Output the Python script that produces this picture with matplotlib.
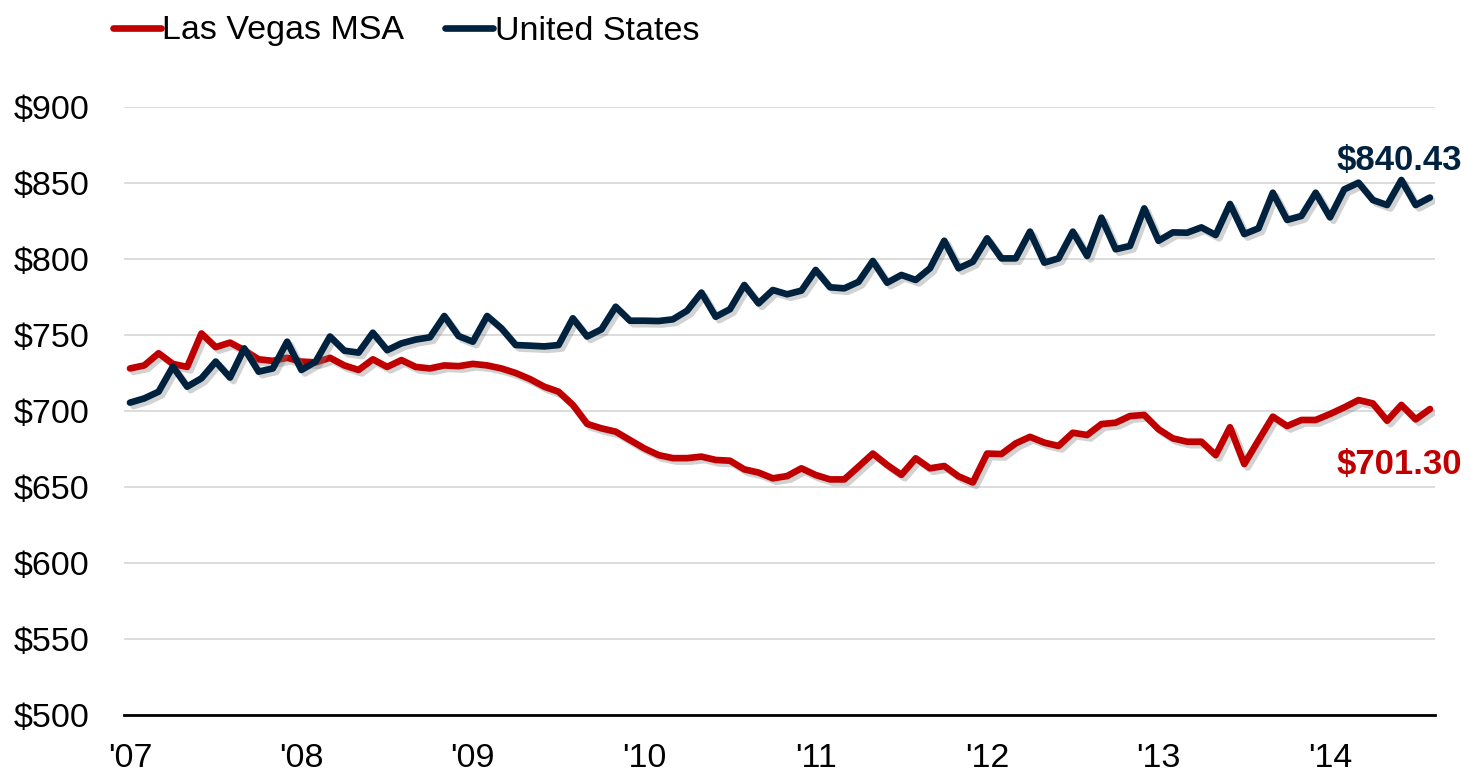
import matplotlib
matplotlib.use("Agg")
import matplotlib.pyplot as plt
import matplotlib.patheffects as pe
from matplotlib.lines import Line2D

plt.rcParams['font.family'] = ['Liberation Sans', 'DejaVu Sans']

# monthly values, Jan 2007 - Aug 2014
las_vegas = [728, 730, 738, 731, 729, 751, 742, 745, 740, 734, 733, 735,
             732.5, 732, 735, 730, 727, 734, 729, 733.5, 729, 728, 730, 729.5,
             731, 730, 728, 725, 721, 716, 712.7, 704, 691.5, 688.6, 686.4, 680.9,
             675.4, 671, 669, 669, 670, 667.8, 667.3, 661.6, 659.5, 655.7, 657.2, 662.3,
             657.9, 655, 655, 663.4, 672, 664.5, 658, 668.9, 662.3, 663.8, 657, 653,
             672, 671.7, 678.7, 683, 679.2, 677, 685.7, 684.2, 691.4, 692.3, 696.7, 697.4,
             688, 682, 679.8, 679.8, 671, 689.3, 665.1, 680.8, 696.3, 690.1, 694.1, 694.1,
             698, 702.4, 707.2, 705, 693.6, 704, 694.5, 701.30]

united_states = [705.5, 708.3, 712.7, 729.2, 716, 721.5, 732.5, 722, 741.2, 725.9, 728, 745.6,
                 727, 732.5, 749, 739.7, 738.4, 751.5, 740, 744.5, 747, 748.5, 762.5, 749.3,
                 745.6, 762.5, 754.4, 743.4, 743, 742.5, 743.4, 761, 749, 753.7, 768.6, 759.4,
                 759.4, 759.2, 760.3, 766, 777.9, 762, 767, 782.9, 770.8, 779.6, 776.8, 779.2,
                 792.8, 781.4, 780.7, 785, 798.7, 784.4, 789.5, 786.2, 793.9, 812, 793.9, 798.2,
                 813.6, 800.4, 800.4, 818, 797.6, 800.4, 818, 802, 827.2, 806.4, 808.6, 833.3,
                 812, 817.5, 817.3, 820.8, 815.8, 836.2, 816.4, 820.2, 843.6, 825.7, 828.3, 843.6,
                 827.4, 845.8, 850.2, 838.8, 835.5, 852, 835.5, 840.43]

year_labels = ["'07", "'08", "'09", "'10", "'11", "'12", "'13", "'14"]
y_ticks = [500, 550, 600, 650, 700, 750, 800, 850, 900]

red = '#C00000'
navy = '#00223F'

fig = plt.figure(figsize=(14.71, 7.81), dpi=100)
ax = fig.add_axes([0.0843, 0.0845, 0.8912, 0.7785])

months = list(range(len(las_vegas)))
shadow = [pe.SimpleLineShadow(offset=(2.5, -2.5), shadow_color='#808080', alpha=0.35), pe.Normal()]

ax.plot(months, las_vegas, color=red, lw=4.8, solid_joinstyle='round',
        solid_capstyle='round', path_effects=shadow, zorder=3)
ax.plot(months, united_states, color=navy, lw=4.8, solid_joinstyle='round',
        solid_capstyle='round', path_effects=shadow, zorder=4)

ax.set_ylim(500, 900)
ax.set_xlim(-0.42, 91.35)
ax.set_yticks(y_ticks)
ax.set_yticklabels(['$' + str(v) for v in y_ticks])
ax.set_xticks([12 * i for i in range(len(year_labels))])
ax.set_xticklabels(year_labels)
ax.tick_params(axis='both', length=0, labelsize=24.5)
ax.tick_params(axis='y', pad=25)
ax.tick_params(axis='x', pad=20)

ax.grid(axis='y', color='#d9d9d9', lw=1.3)
ax.set_axisbelow(True)
for s in ['top', 'right', 'left']:
    ax.spines[s].set_visible(False)
ax.spines['bottom'].set_color('black')
ax.spines['bottom'].set_linewidth(2)

# end labels
ax.annotate('$840.43', xy=(months[-1], united_states[-1]), xytext=(23, 27),
            textcoords='offset points', ha='right', va='center',
            fontsize=25, fontweight='bold', color=navy, annotation_clip=False)
ax.annotate('$701.30', xy=(months[-1], las_vegas[-1]), xytext=(23, -40),
            textcoords='offset points', ha='right', va='center',
            fontsize=25, fontweight='bold', color=red, annotation_clip=False)

handles = [Line2D([], [], color=red, lw=4.8, solid_capstyle='round'),
           Line2D([], [], color=navy, lw=4.8, solid_capstyle='round')]
fig.legend(handles, ['Las Vegas MSA', 'United States'], loc='center left',
           bbox_to_anchor=(113 / 1471, 1 - 31 / 781), ncol=2,
           frameon=False, fontsize=24.5, handlelength=1.4, handletextpad=0.05,
           columnspacing=1.2, borderpad=0, borderaxespad=0)

fig.savefig('out.png', dpi=100)
